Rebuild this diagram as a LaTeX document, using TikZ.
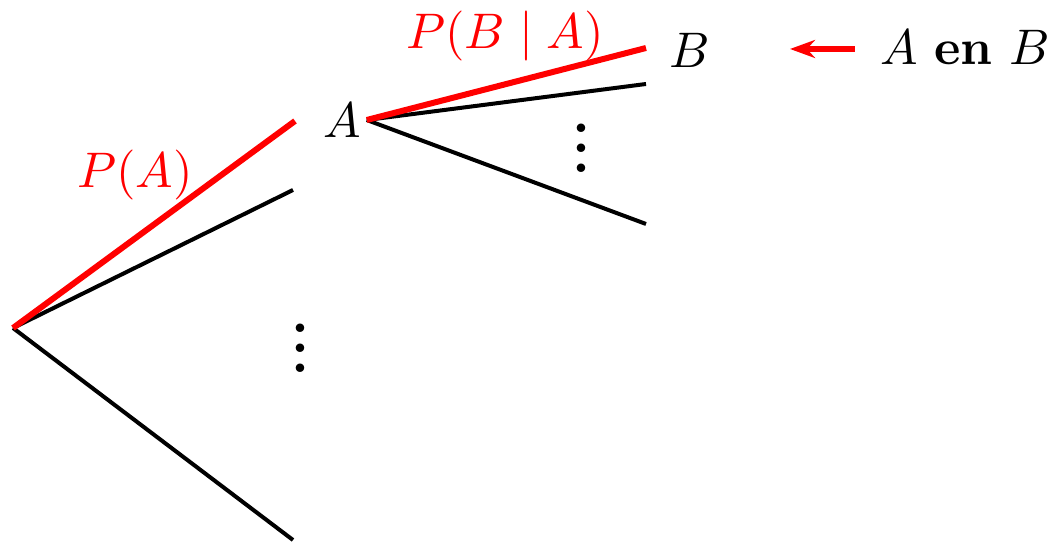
\documentclass[tikz,border=0pt]{standalone}
\usepackage{tikz}
\usepackage{xcolor}
\usetikzlibrary{arrows.meta,positioning}
\tikzset{
  branch/.style={draw=black,line width=0.8pt},
  redbranch/.style={draw=red,line width=1.2pt},
  problabel/.style={text=red,inner sep=0pt},
  leaf/.style={inner sep=1pt},
  more/.style={inner sep=0pt,font=\huge},
  pointer/.style={-{Stealth[length=5pt,width=3.6pt]},draw=red,line width=1.2pt}
}
\begin{document}
\begin{tikzpicture}[x=0.2pt,y=-0.2pt]
  \useasboundingbox (0,0) rectangle (1052,542);
  % first level
  \coordinate (o) at (13,328);
  \coordinate (a1) at (295,121);
  \coordinate (a2) at (293,190);
  \coordinate (a3) at (293,540);
  \node[leaf] (A) at (342,120) {$A$};
  \node[more] (dots1) at (300,333) {$\vdots$};
  \draw[branch] (o)--(a2); \draw[branch] (o)--(a3);
  \draw[redbranch] (o)--(a1);
  \node[problabel] (PA) at (135,175.5) {$P(A)$};
  % second level
  \coordinate (b1) at (646,48);
  \coordinate (b2) at (646,84);
  \coordinate (b3) at (646,224);
  \node[leaf] (B) at (690,50) {$B$};
  \node[more] (dots2) at (581,133) {$\vdots$};
  \draw[branch] (A.east)--(b2); \draw[branch] (A.east)--(b3);
  \draw[redbranch] (A.east)--(b1);
  \node[problabel] (PBA) at (505,36) {$P(B\mid A)$};
  % annotation
  \node (AB) at (965,48) {$A$ \textbf{en} $B$};
  \coordinate (tip) at (790,49);
  \draw[pointer,shorten <=1.6pt] (AB.west|-tip)--(tip);
\end{tikzpicture}
\end{document}
